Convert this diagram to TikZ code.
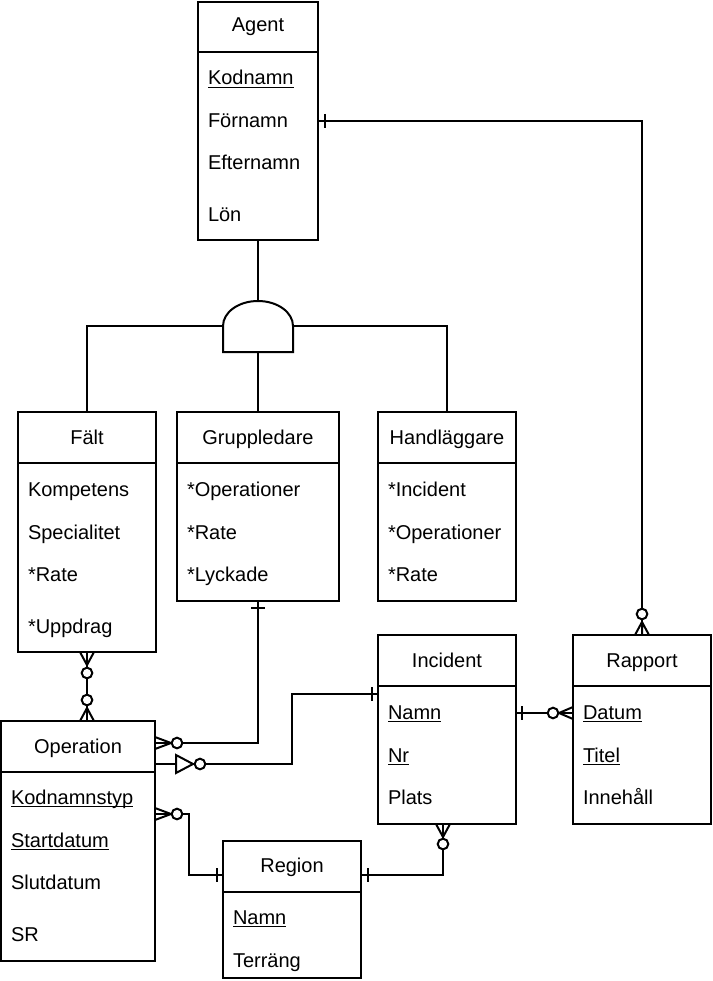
\documentclass[tikz,border=0pt]{standalone}
\usepackage{fontspec}
\setmainfont{Liberation Sans}
\usetikzlibrary{calc}
\begin{document}
\begin{tikzpicture}[x=1pt,y=-1pt,line width=2pt,line join=miter,
  ent/.style={draw,inner sep=0pt,outer sep=0pt,anchor=north west},
  lbl/.style={inner sep=0pt,outer sep=0pt,font=\fontsize{20}{24}\selectfont,anchor=base west},
  ttl/.style={inner sep=0pt,outer sep=0pt,font=\fontsize{20}{24}\selectfont,anchor=base},
  uline/.style={line width=1.5pt},
  mk/.style={line width=2pt},
  ring/.style={draw,fill=white,line width=2pt}]
\useasboundingbox (0,0) rectangle (712,981);
\newcommand{\keyline}[1]{\draw[uline] ([yshift=-2.5pt]#1.base west) -- ([yshift=-2.5pt]#1.base east);}

% ---------- entities ----------
% Agent
\node[ent,minimum width=120pt,minimum height=238pt] (agent) at (198,2) {};
\draw (agent.west |- 0,52) -- (agent.east |- 0,52);
\node[ttl] (agentT) at (258,32) {Agent};
\node[lbl] (agentA1) at (208,85) {Kodnamn}; \keyline{agentA1}
\node[lbl] (agentA2) at (208,128) {Förnamn};
\node[lbl] (agentA3) at (208,170) {Efternamn};
\node[lbl] (agentA4) at (208,222) {Lön};

% Falt
\node[ent,minimum width=138pt,minimum height=240pt] (falt) at (18,412) {};
\draw (falt.west |- 0,463) -- (falt.east |- 0,463);
\node[ttl] (faltT) at (87,444) {Fält};
\node[lbl] (faltA1) at (28,496) {Kompetens};
\node[lbl] (faltA2) at (28,539) {Specialitet};
\node[lbl] (faltA3) at (28,581) {*Rate};
\node[lbl] (faltA4) at (28,633) {*Uppdrag};

% Gruppledare
\node[ent,minimum width=162pt,minimum height=189pt] (grupp) at (177,412) {};
\draw (grupp.west |- 0,463) -- (grupp.east |- 0,463);
\node[ttl] (gruppT) at (258,444) {Gruppledare};
\node[lbl] (gruppA1) at (187,496) {*Operationer};
\node[lbl] (gruppA2) at (187,539) {*Rate};
\node[lbl] (gruppA3) at (187,581) {*Lyckade};

% Handlaggare
\node[ent,minimum width=138pt,minimum height=189pt] (handl) at (378,412) {};
\draw (handl.west |- 0,463) -- (handl.east |- 0,463);
\node[ttl] (handlT) at (447,444) {Handläggare};
\node[lbl] (handlA1) at (388,496) {*Incident};
\node[lbl] (handlA2) at (388,539) {*Operationer};
\node[lbl] (handlA3) at (388,581) {*Rate};

% Incident
\node[ent,minimum width=138pt,minimum height=189pt] (incident) at (378,635) {};
\draw (incident.west |- 0,686) -- (incident.east |- 0,686);
\node[ttl] (incidentT) at (447,667) {Incident};
\node[lbl] (incidentA1) at (388,719) {Namn}; \keyline{incidentA1}
\node[lbl] (incidentA2) at (388,762) {Nr}; \keyline{incidentA2}
\node[lbl] (incidentA3) at (388,804) {Plats};

% Rapport
\node[ent,minimum width=138pt,minimum height=189pt] (rapport) at (573,635) {};
\draw (rapport.west |- 0,686) -- (rapport.east |- 0,686);
\node[ttl] (rapportT) at (642,667) {Rapport};
\node[lbl] (rapportA1) at (583,719) {Datum}; \keyline{rapportA1}
\node[lbl] (rapportA2) at (583,762) {Titel}; \keyline{rapportA2}
\node[lbl] (rapportA3) at (583,804) {Innehåll};

% Operation
\node[ent,minimum width=154pt,minimum height=240pt] (operation) at (1,721) {};
\draw (operation.west |- 0,772) -- (operation.east |- 0,772);
\node[ttl] (operationT) at (78,753) {Operation};
\node[lbl] (operationA1) at (11,804) {Kodnamnstyp}; \keyline{operationA1}
\node[lbl] (operationA2) at (11,847) {Startdatum}; \keyline{operationA2}
\node[lbl] (operationA3) at (11,889) {Slutdatum};
\node[lbl] (operationA4) at (11,941) {SR};

% Region
\node[ent,minimum width=138pt,minimum height=137pt] (region) at (223,841) {};
\draw (region.west |- 0,892) -- (region.east |- 0,892);
\node[ttl] (regionT) at (292,872) {Region};
\node[lbl] (regionA1) at (233,924) {Namn}; \keyline{regionA1}
\node[lbl] (regionA2) at (233,967) {Terräng};

% ---------- specialization (disjoint) ----------
\coordinate (djtop) at (258,301);
\coordinate (djL) at (223,326);
\coordinate (djR) at (293,326);
\coordinate (djB) at (258,352);
\draw (agent.south) -- (djtop);
\draw (falt.north) |- (djL);
\draw (handl.north) |- (djR);
\draw (grupp.north) -- (djB);
\draw[fill=white] (223,352) -- (djL) arc[start angle=180,end angle=0,x radius=35pt,y radius=25pt] -- (293,352) -- cycle;

% ---------- relationships ----------
% Agent -- Rapport
\draw (agent.east |- 0,121) -| (rapport.north);
\draw[mk] (325,114) -- (325,128);
\draw[mk] (635,635) -- (642,622) -- (649,635) (642,622) -- (642,635);
\draw[ring] (642,614) circle[radius=5.3pt];

% Falt -- Operation
\draw (falt.south) -- (falt.south |- operation.north);
\draw[mk] (80,652) -- (87,665) -- (94,652);
\draw[mk] (80,721) -- (87,708) -- (94,721);
\draw[ring] (87,673) circle[radius=5.3pt];
\draw[ring] (87,700) circle[radius=5.3pt];

% Gruppledare -- Operation
\draw (grupp.south) |- (operation.east |- 0,743);
\draw[mk] (251,608) -- (265,608);
\draw[mk] (155,737) -- (171,743) -- (155,749);
\draw[ring] (177,743) circle[radius=5.3pt];

% Operation -- Incident
\coordinate (b1) at (292,764);
\coordinate (b2) at (292,694);
\draw (operation.east |- b1) -- (b1) -- (b2) -- (incident.west |- b2);
\draw[mk,fill=white] (176,755) -- (176,773) -- (193,764) -- cycle;
\draw[ring] (200,764) circle[radius=5.3pt];
\draw[mk] (372,687) -- (372,701);

% Incident -- Rapport
\draw (incident.east |- 0,713) -- (rapport.west |- 0,713);
\draw[mk] (522,706) -- (522,720);
\draw[mk] (573,707) -- (559,713) -- (573,719);
\draw[ring] (553,713) circle[radius=5.3pt];

% Operation -- Region
\coordinate (c1) at (189,814);
\coordinate (c2) at (189,875);
\draw (operation.east |- c1) -- (c1) -- (c2) -- (region.west |- c2);
\draw[mk] (155,808) -- (171,814) -- (155,820);
\draw[ring] (177,814) circle[radius=5.3pt];
\draw[mk] (217,868) -- (217,882);

% Region -- Incident
\coordinate (d1) at (443,875);
\draw (region.east |- d1) -- (d1) -- (d1 |- incident.south);
\draw[mk] (368,868) -- (368,882);
\draw[mk] (436,824) -- (443,837) -- (450,824);
\draw[ring] (443,844) circle[radius=5.3pt];
\end{tikzpicture}
\end{document}
